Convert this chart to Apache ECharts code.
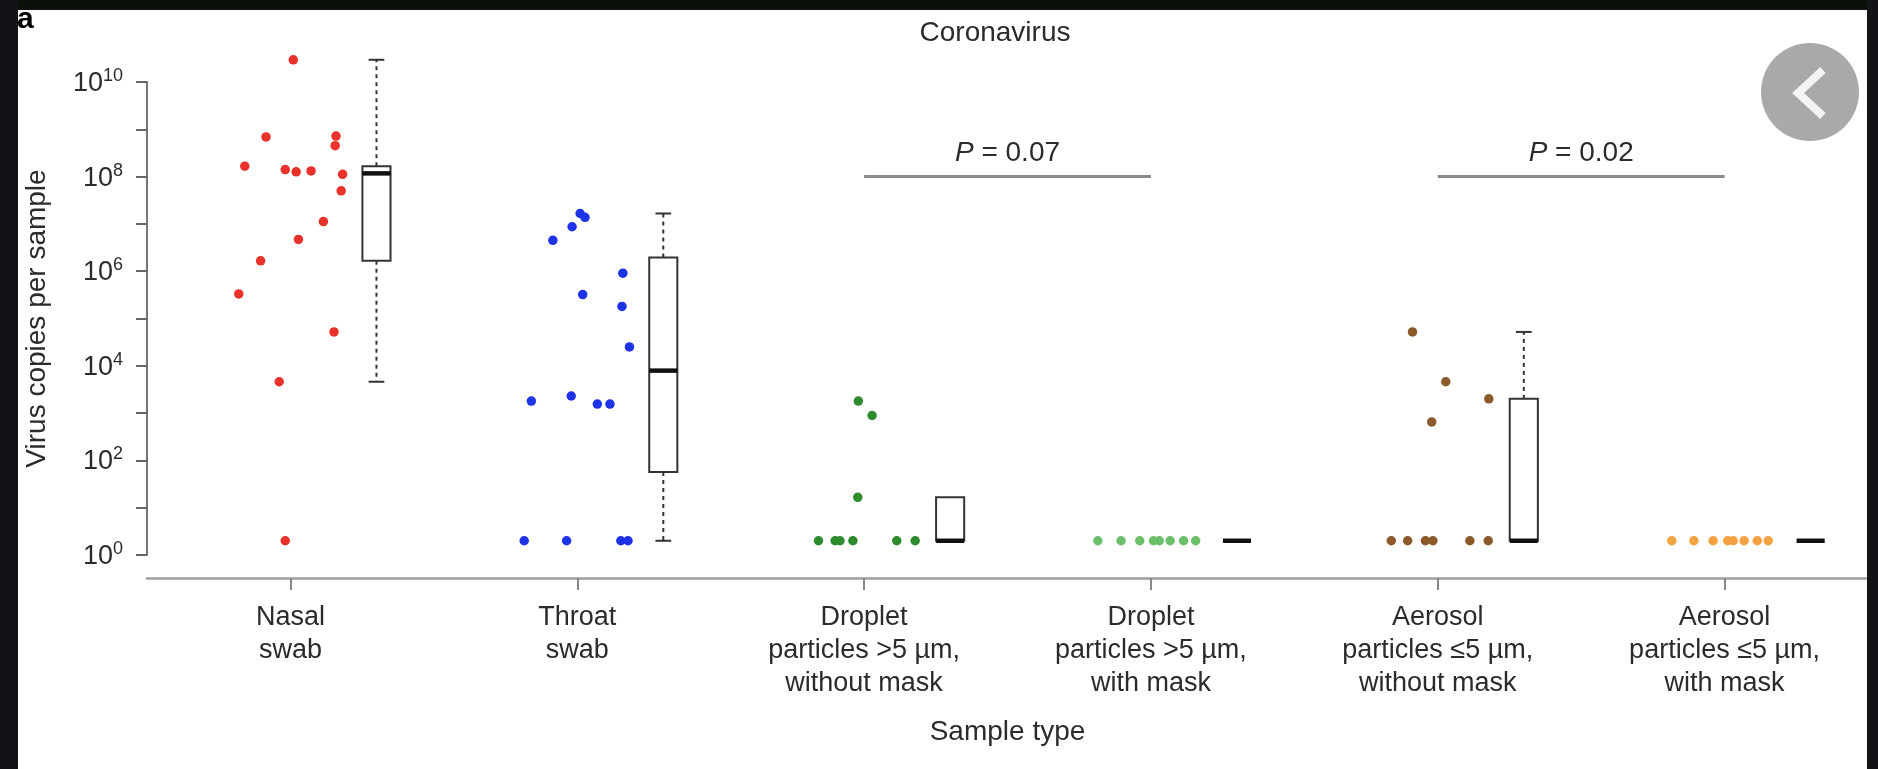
<!DOCTYPE html>
<html>
<head>
<meta charset="utf-8">
<title>Coronavirus</title>
<script src="https://cdn.jsdelivr.net/npm/echarts@6/dist/echarts.min.js"></script>
<style>
  html, body { margin: 0; padding: 0; background: #0e1110; }
  #chart { width: 1878px; height: 769px; }
</style>
</head>
<body>
<div id="chart"></div>
<script>
var FONT = '"Liberation Sans", Arial, sans-serif';
var TEXT = '#2b2b2b';

var categories = [
  'Nasal\nswab',
  'Throat\nswab',
  'Droplet\nparticles >5 µm,\nwithout mask',
  'Droplet\nparticles >5 µm,\nwith mask',
  'Aerosol\nparticles ≤5 µm,\nwithout mask',
  'Aerosol\nparticles ≤5 µm,\nwith mask'
];
var colors = ['#e8322b', '#1f33e6', '#2e8b2e', '#6cbf6a', '#8b5a2b', '#f4a142'];

// virus copies per sample (undetectable samples plotted at 2)
var nasalCopies = [2.95e10, 6.9e8, 7.2e8, 4.5e8, 1.66e8, 1.41e8, 1.26e8, 1.32e8, 1.12e8, 5.0e7, 1.12e7, 4.7e6, 1.66e6, 3.3e5, 5.2e4, 4.6e3, 2];
var throatCopies = [1.66e7, 1.38e7, 8.7e6, 4.5e6, 9.1e5, 3.2e5, 1.8e5, 2.5e4, 1.8e3, 2.3e3, 1.55e3, 1.55e3, 2, 2, 2, 2];
var dropletCopies = [1.8e3, 8.9e2, 16.6, 2, 2, 2, 2, 2, 2];
var dropletMaskCopies = [2, 2, 2, 2, 2, 2, 2, 2];
var aerosolCopies = [5.2e4, 4.6e3, 2.0e3, 6.5e2, 2, 2, 2, 2, 2, 2];
var aerosolMaskCopies = [2, 2, 2, 2, 2, 2, 2, 2];

// horizontal jitter of each point, in category widths from the category centre
var nasalJitter = [0.010, -0.085, 0.159, 0.156, -0.159, -0.018, 0.020, 0.072, 0.182, 0.177, 0.115, 0.028, -0.104, -0.180, 0.152, -0.039, -0.018];
var throatJitter = [0.010, 0.027, -0.018, -0.085, 0.159, 0.019, 0.156, 0.182, -0.160, -0.021, 0.070, 0.114, -0.185, -0.037, 0.152, 0.177];
var dropletJitter = [-0.020, 0.028, -0.022, -0.159, -0.101, -0.084, -0.039, 0.114, 0.178];
var dropletMaskJitter = [-0.185, -0.104, -0.039, 0.009, 0.029, 0.067, 0.114, 0.156];
var aerosolJitter = [-0.088, 0.028, 0.178, -0.021, -0.162, -0.105, -0.043, -0.017, 0.112, 0.176];
var aerosolMaskJitter = [-0.184, -0.107, -0.040, 0.011, 0.030, 0.068, 0.114, 0.152];

// boxplot stats: [lower whisker, Q1, median, Q3, upper whisker]
var boxStats = [
  [4.6e3, 1.66e6, 1.17e8, 1.66e8, 2.95e10],
  [2, 57, 7.9e3, 1.95e6, 1.66e7],
  [2, 2, 2, 16.6, 16.6],
  [2, 2, 2, 2, 2],
  [2, 2, 2, 2.0e3, 5.2e4],
  [2, 2, 2, 2, 2]
];

// significance bars: [from category, to category, P value, height]
var pBars = [
  [2, 3, '0.07', 1e8],
  [4, 5, '0.02', 1e8]
];

var groups = [
  [nasalCopies, nasalJitter],
  [throatCopies, throatJitter],
  [dropletCopies, dropletJitter],
  [dropletMaskCopies, dropletMaskJitter],
  [aerosolCopies, aerosolJitter],
  [aerosolMaskCopies, aerosolMaskJitter]
];

var BOX_SHIFT = 0.3;
var BOX_W = 0.098;

var chart = echarts.init(document.getElementById('chart'));

var scatterSeries = groups.map(function (g, i) {
  return {
    type: 'scatter',
    xAxisIndex: 1,
    symbolSize: 9.5,
    clip: false,
    itemStyle: { color: colors[i], opacity: 1 },
    data: g[0].map(function (v, k) {
      return [i + 0.5 + g[1][k], Math.log10(v)];
    })
  };
});

var boxSeries = {
  type: 'custom',
  xAxisIndex: 1,
  clip: false,
  z: 3,
  data: boxStats.map(function (s, i) {
    return [i].concat(s.map(function (v) { return Math.log10(v); }));
  }),
  renderItem: function (params, api) {
    var cx = api.value(0) + 0.5 + BOX_SHIFT;
    var lo = api.coord([cx, api.value(1)]);
    var q1 = api.coord([cx, api.value(2)]);
    var md = api.coord([cx, api.value(3)]);
    var q3 = api.coord([cx, api.value(4)]);
    var hi = api.coord([cx, api.value(5)]);
    var w = api.size([BOX_W, 0])[0];
    var cap = w * 0.28;
    var x = q1[0];
    var line = { stroke: '#333', lineWidth: 2 };
    var dash = { stroke: '#333', lineWidth: 2, lineDash: [4, 4] };
    var kids = [];
    if (hi[1] < q3[1] - 1) {
      kids.push({ type: 'line', shape: { x1: x, y1: q3[1], x2: x, y2: hi[1] }, style: dash });
      kids.push({ type: 'line', shape: { x1: x - cap, y1: hi[1], x2: x + cap, y2: hi[1] }, style: line });
    }
    if (lo[1] > q1[1] + 1) {
      kids.push({ type: 'line', shape: { x1: x, y1: q1[1], x2: x, y2: lo[1] }, style: dash });
      kids.push({ type: 'line', shape: { x1: x - cap, y1: lo[1], x2: x + cap, y2: lo[1] }, style: line });
    }
    if (q1[1] - q3[1] > 1) {
      kids.push({ type: 'rect', shape: { x: x - w / 2, y: q3[1], width: w, height: q1[1] - q3[1] },
        style: { fill: '#fff', stroke: '#333', lineWidth: 2 } });
    }
    kids.push({ type: 'line', shape: { x1: x - w / 2, y1: md[1], x2: x + w / 2, y2: md[1] },
      style: { stroke: '#111', lineWidth: 4.5 } });
    return { type: 'group', children: kids };
  }
};

var pSeries = {
  type: 'custom',
  xAxisIndex: 1,
  clip: false,
  data: pBars.map(function (p) { return [p[0] + 0.5, p[1] + 0.5, Math.log10(p[3]), p[2]]; }),
  renderItem: function (params, api) {
    var a = api.coord([api.value(0), api.value(2)]);
    var b = api.coord([api.value(1), api.value(2)]);
    return {
      type: 'group',
      children: [
        { type: 'line', shape: { x1: a[0], y1: a[1], x2: b[0], y2: b[1] },
          style: { stroke: '#8a8a8a', lineWidth: 3 } },
        { type: 'text', x: (a[0] + b[0]) / 2, y: a[1] - 23,
          style: {
            text: '{i|P} = ' + api.value(3),
            align: 'center', verticalAlign: 'middle',
            font: '28px ' + FONT, fill: TEXT,
            rich: { i: { fontStyle: 'italic', fontSize: 28, fontFamily: FONT, color: TEXT } }
          } }
      ]
    };
  }
};

var option = {
  animation: false,
  backgroundColor: '#ffffff',
  grid: { left: 147, right: 10, top: 82, bottom: 214, containLabel: false },
  xAxis: [
    {
      type: 'category',
      data: categories,
      boundaryGap: true,
      position: 'bottom',
      offset: 23,
      name: 'Sample type',
      nameLocation: 'middle',
      nameGap: 140,
      nameTextStyle: { fontSize: 28, color: TEXT, fontFamily: FONT },
      axisLine: { onZero: false, lineStyle: { color: '#a0a0a0', width: 2.5 } },
      axisTick: { show: true, inside: false, alignWithLabel: true, interval: 0, length: 12,
        lineStyle: { color: '#888', width: 2 } },
      axisLabel: { margin: 23, fontSize: 27, lineHeight: 33, color: TEXT, fontFamily: FONT, interval: 0 },
      splitLine: { show: false }
    },
    { type: 'value', min: 0, max: 6, show: false }
  ],
  yAxis: {
    type: 'value',
    min: 0,
    max: 10,
    interval: 1,
    name: 'Virus copies per sample',
    nameLocation: 'middle',
    nameGap: 96,
    nameTextStyle: { fontSize: 28, color: TEXT, fontFamily: FONT },
    axisLine: { show: true, lineStyle: { color: '#777', width: 2 } },
    axisTick: { show: true, length: 11, lineStyle: { color: '#666', width: 2 } },
    splitLine: { show: false },
    axisLabel: {
      margin: 24,
      formatter: function (v) { return v % 2 === 0 ? '{b|10}{s|' + v + '}' : ''; },
      rich: {
        b: { fontSize: 27, lineHeight: 30, verticalAlign: 'bottom', color: TEXT, fontFamily: FONT },
        s: { fontSize: 18, lineHeight: 18, padding: [0, 0, 16, 0], verticalAlign: 'top', color: TEXT, fontFamily: FONT }
      }
    }
  },
  graphic: [
    { type: 'text', x: 995, y: 33, style: { text: 'Coronavirus', align: 'center', verticalAlign: 'middle',
      font: '28px ' + FONT, fill: TEXT } },
    { type: 'rect', z: 100, shape: { x: 0, y: 0, width: 1878, height: 10 }, style: { fill: '#0b100b' } },
    { type: 'rect', z: 100, shape: { x: 0, y: 0, width: 18, height: 769 }, style: { fill: '#111316' } },
    { type: 'rect', z: 100, shape: { x: 1867, y: 0, width: 11, height: 769 }, style: { fill: '#111316' } },
    { type: 'text', z: 101, x: 17, y: 35, style: { text: 'a', verticalAlign: 'bottom',
      font: 'bold 30px ' + FONT, fill: '#000' } },
    { type: 'circle', z: 101, shape: { cx: 1810, cy: 92, r: 49 }, style: { fill: '#a9a9a9' } },
    { type: 'polyline', z: 102, shape: { points: [[1823, 70], [1798, 93], [1823, 116]] },
      style: { stroke: '#f4f4f4', lineWidth: 8, fill: null } }
  ],
  series: scatterSeries.concat([boxSeries, pSeries])
};

chart.setOption(option);
</script>
</body>
</html>
